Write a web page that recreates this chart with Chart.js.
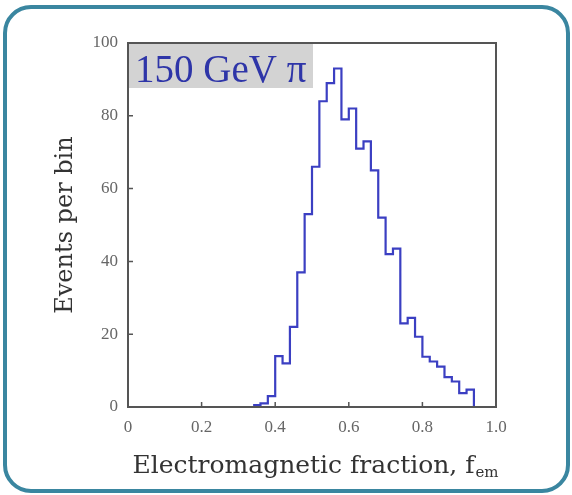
<!DOCTYPE html>
<html>
<head>
<meta charset="utf-8">
<script src="https://cdn.jsdelivr.net/npm/chart.js@4.4.1/dist/chart.umd.min.js"></script>
<style>
html,body{margin:0;padding:0;background:#fff;}
#wrap{position:relative;width:572px;height:495px;overflow:hidden;}
#frame{position:absolute;left:3px;top:5px;width:567px;height:488px;box-sizing:border-box;border:4px solid #3a86a0;border-radius:28px;pointer-events:none;}
canvas{position:absolute;left:0;top:0;}
</style>
</head>
<body>
<div id="wrap">
<canvas id="histChart" width="572" height="495"></canvas>
<div id="frame"></div>
</div>
<script>
// bin edges (width 0.02) and counts per bin
const binEdges=[0.34,0.36,0.38,0.40,0.42,0.44,0.46,0.48,0.50,0.52,0.54,0.56,0.58,0.60,0.62,0.64,0.66,0.68,0.70,0.72,0.74,0.76,0.78,0.80,0.82,0.84,0.86,0.88,0.90,0.92,0.94,0.96];
const counts=[0.5,1,3,14,12,22,37,53,66,84,89,93,79,82,71,73,65,52,42,43.5,23,24.5,19.3,13.8,12.5,11.1,8.2,7,3.8,4.8,0];

const xTickValues=[0,0.2,0.4,0.6,0.8,1.0];
const xTickLabels=["0","0.2","0.4","0.6","0.8","1.0"];
const yTickValues=[0,20,40,60,80,100];
const yTickLabels=["0","20","40","60","80","100"];

const labelText="150 GeV \u03c0";
const xTitle="Electromagnetic fraction, f";
const xTitleSub="em";
const yTitle="Events per bin";

const points=binEdges.map((x,i)=>({
x,
y:i<counts.length?counts[i]:counts[counts.length-1]
}));

const framePlugin={
id:"frame",
beforeDatasetsDraw(chart){
const {ctx,chartArea:a}=chart;
ctx.save();
ctx.fillStyle="#d3d3d3";
ctx.fillRect(a.left,a.top,185,45);
ctx.fillStyle="#2e35a8";
ctx.font="39px 'Liberation Serif'";
ctx.textBaseline="alphabetic";
ctx.fillText(labelText,a.left+7,a.top+39);
ctx.restore();
},
afterDraw(chart){
const {ctx,chartArea:a,scales}=chart;
ctx.save();
ctx.strokeStyle="#555";
ctx.lineWidth=2;
ctx.strokeRect(a.left,a.top,a.right-a.left,a.bottom-a.top);

// inside ticks
ctx.lineWidth=1.5;
ctx.beginPath();
xTickValues.slice(1,-1).forEach(v=>{
const px=scales.x.getPixelForValue(v);
ctx.moveTo(px,a.bottom);
ctx.lineTo(px,a.bottom-5);
});
yTickValues.slice(1,-1).forEach(v=>{
const py=scales.y.getPixelForValue(v);
ctx.moveTo(a.left,py);
ctx.lineTo(a.left+5,py);
});
ctx.stroke();

// x title with subscript
ctx.fillStyle="#333";
ctx.textBaseline="alphabetic";
ctx.font="25px 'DejaVu Serif'";
const w1=ctx.measureText(xTitle).width;
ctx.font="15px 'DejaVu Serif'";
const w2=ctx.measureText(xTitleSub).width;
let x=(a.left+a.right)/2+3-(w1+w2)/2;
ctx.font="25px 'DejaVu Serif'";
ctx.fillText(xTitle,x,473);
ctx.font="15px 'DejaVu Serif'";
ctx.fillText(xTitleSub,x+w1+1,477);
ctx.restore();
}
};

new Chart(document.getElementById("histChart"),{
type:"line",
data:{
datasets:[{
label:"Events",
data:points,
stepped:true,
borderColor:"#3b3fc2",
borderWidth:2.2,
pointRadius:0,
fill:false
}]
},
options:{
responsive:false,
animation:false,
layout:{
padding:{left:0,right:76,top:43,bottom:0}
},
plugins:{
legend:{display:false},
tooltip:{enabled:false}
},
scales:{
x:{
type:"linear",
min:0,
max:1,
afterBuildTicks:scale=>{scale.ticks=xTickValues.map(v=>({value:v}));},
afterFit:scale=>{scale.height=88;},
grid:{display:false,drawTicks:false},
border:{display:false},
ticks:{
color:"#666",
padding:10,
maxRotation:0,
font:{family:"'Liberation Serif'",size:17},
callback:(v,i)=>xTickLabels[i]
}
},
y:{
min:0,
max:100,
afterBuildTicks:scale=>{scale.ticks=yTickValues.map(v=>({value:v}));},
afterFit:scale=>{scale.width=128;},
grid:{display:false,drawTicks:false},
border:{display:false},
ticks:{
color:"#666",
padding:10,
font:{family:"'Liberation Serif'",size:17},
callback:(v,i)=>yTickLabels[i]
},
title:{
display:true,
text:yTitle,
color:"#333",
font:{family:"'DejaVu Serif'",size:24},
padding:{top:51,bottom:0}
}
}
}
},
plugins:[framePlugin]
});
</script>
</body>
</html>
